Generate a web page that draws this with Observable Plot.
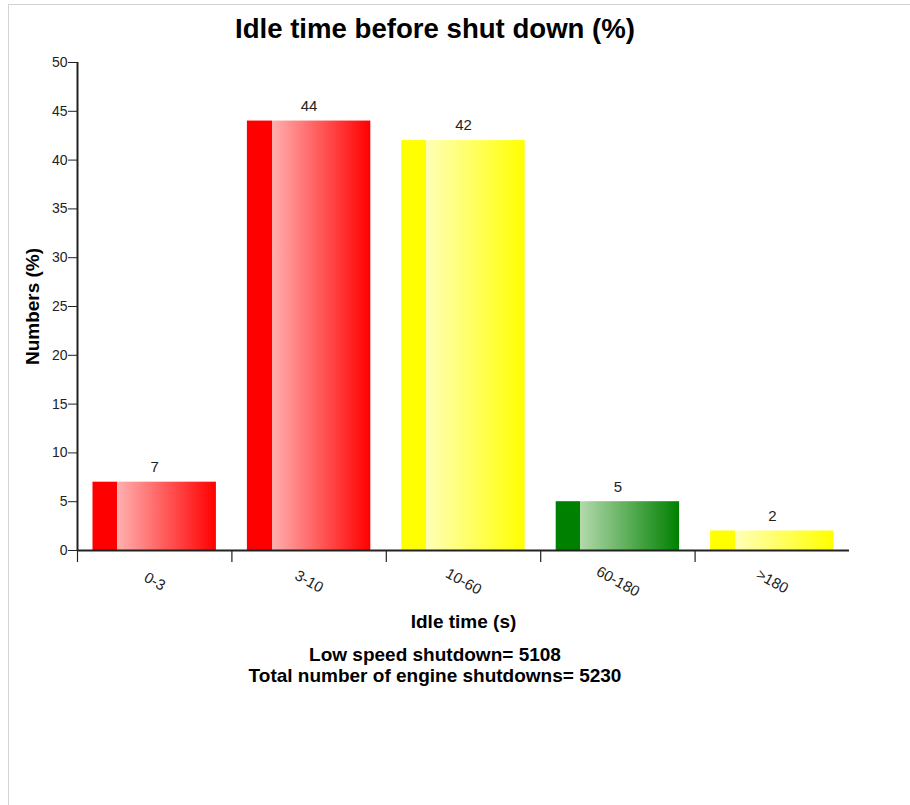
<!DOCTYPE html>
<html><head><meta charset="utf-8">
<script src="https://cdn.jsdelivr.net/npm/d3@7"></script>
<script src="https://cdn.jsdelivr.net/npm/@observablehq/plot@0.6"></script>
<style>
body{margin:0;background:#fff;font-family:"Liberation Sans",Arial,sans-serif;overflow:hidden;}
#frame{position:absolute;left:8px;top:4px;width:1000px;height:900px;border-left:1px solid #d3d3d3;border-top:1px solid #d3d3d3;}
#title{position:absolute;left:0;top:0;}
#chart{position:absolute;left:0;top:50px;}
#caption{position:absolute;left:0;top:644px;width:870px;text-align:center;font-weight:bold;font-size:19px;line-height:21px;color:#000;}
</style></head><body>
<div id="frame"></div>
<svg id="title" width="910" height="50"><text x="435" y="38" text-anchor="middle" font-family="Liberation Sans, Arial, sans-serif" font-weight="bold" font-size="28" textLength="400" lengthAdjust="spacingAndGlyphs" fill="#000">Idle time before shut down (%)</text></svg>
<div id="chart"></div>
<div id="caption"><div>Low speed shutdown= 5108</div><div>Total number of engine shutdowns= 5230</div></div>
<script>
const categories = ["0-3", "3-10", "10-60", "60-180", ">180"];
const values = [7, 44, 42, 5, 2];
const barColors = ["red", "red", "yellow", "green", "yellow"];
const yTicks = [0, 5, 10, 15, 20, 25, 30, 35, 40, 45, 50];
const gradients = {red: ["#ff0000", "#ffb0b0"], yellow: ["#ffff00", "#ffffb8"], green: ["#008000", "#b2d9ac"]};

const data = categories.map((c, i) => ({category: c, value: values[i], pos: i, fill: `url(#grad-${barColors[i]})`}));

const chart = Plot.plot({
  width: 910, height: 600,
  marginLeft: 77, marginRight: 61, marginTop: 12, marginBottom: 100,
  style: {fontFamily: "Liberation Sans, Arial, sans-serif", fontSize: "14px", color: "#222", background: "transparent"},
  x: {domain: [0, 5], axis: null},
  y: {domain: [0, 50], ticks: yTicks, tickSize: 9, tickPadding: 1, label: null},
  color: {type: "identity"},
  marks: [
    Plot.rectY(data, {x1: d => d.pos, x2: d => d.pos + 1, y: "value", insetLeft: 15.5, insetRight: 15.5, fill: "fill"}),
    Plot.ruleX([0], {y1: 0, y2: 50, stroke: "#222", strokeWidth: 2}),
    Plot.ruleX([0, 1, 2, 3, 4], {y1: 0, y2: 0, insetBottom: -12, stroke: "#222", strokeWidth: 1.2}),
    Plot.ruleY([0], {stroke: "#222", strokeWidth: 2}),
    Plot.text(data, {x: d => d.pos + 0.5, y: 0, text: "category", dy: 31, rotate: 29, fontSize: 15, fill: "#222"}),
    Plot.text(data, {x: d => d.pos + 0.5, y: "value", text: d => String(d.value), dy: -15, fontSize: 15, fill: "#222"}),
    Plot.text(["Numbers (%)"], {frameAnchor: "left", dx: -45, rotate: -90, textAnchor: "middle", fontWeight: "bold", fontSize: 19, fill: "#000"}),
    Plot.text(["Idle time (s)"], {frameAnchor: "bottom", dy: 77, fontWeight: "bold", fontSize: 19, fill: "#000"})
  ]
});

const defs = d3.select(chart).insert("defs", ":first-child");
for (const [name, [full, pale]] of Object.entries(gradients)) {
  const g = defs.append("linearGradient").attr("id", `grad-${name}`).attr("x1", 0).attr("x2", 1).attr("y1", 0).attr("y2", 0);
  g.append("stop").attr("offset", "0%").attr("stop-color", full);
  g.append("stop").attr("offset", "20%").attr("stop-color", full);
  g.append("stop").attr("offset", "20%").attr("stop-color", pale);
  g.append("stop").attr("offset", "100%").attr("stop-color", full);
}
document.getElementById("chart").appendChild(chart);
</script>
</body></html>
